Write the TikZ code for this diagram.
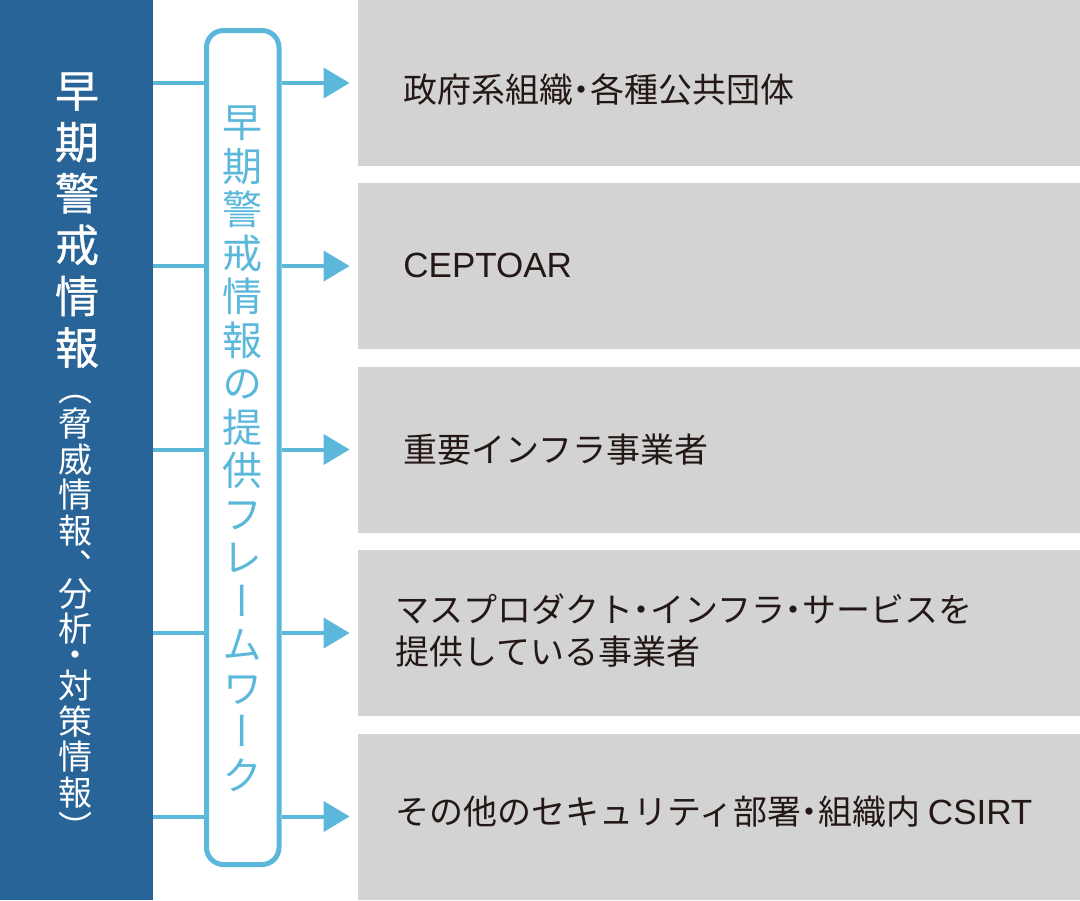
\documentclass[tikz,border=0pt]{standalone}
\usepackage{fontspec}
\setmainfont{Noto Sans CJK JP}
\newfontfamily\vjp[RawFeature=+vert]{Noto Sans CJK JP}
\newfontfamily\titlejp[FakeBold=0.8]{Noto Sans CJK JP}
\newfontfamily\lat{Liberation Sans}
\usetikzlibrary{arrows.meta}

\definecolor{srcblue}{HTML}{286497}
\definecolor{fwblue}{HTML}{5BB8DA}
\definecolor{tgtgray}{HTML}{D3D3D3}
\definecolor{ink}{HTML}{231815}

% narrow middle dot
\newcommand\midpt{\kern-.25em・\kern-.25em}

\tikzset{
  srcbox/.style={fill=srcblue, inner sep=0pt, minimum width=76.5pt, minimum height=450pt},
  fwbox/.style={draw=fwblue, line width=2.5pt, rounded corners=8.5pt, inner sep=0pt,
    minimum width=36.25pt, minimum height=417pt},
  tgtbox/.style={fill=tgtgray, inner sep=0pt, minimum width=361pt, minimum height=83pt},
  tgttext/.style={anchor=west, text=ink, inner sep=0pt, align=left,
    font=\fontsize{17}{21}\selectfont},
  vtext/.style={align=center, inner sep=0pt},
  link/.style={fwblue, line width=2pt},
  arrow/.style={link, -{Triangle[length=13pt,width=15pt]}, shorten >=4pt},
}

\begin{document}
\begin{tikzpicture}[x=0.5pt,y=-0.5pt]
\useasboundingbox (0,0) rectangle (1080,900);

% left column
\node[srcbox] (src) at (76.5,450) {};
\node[vtext, text=white, font=\titlejp\fontsize{22}{25.7}\selectfont] (srctitle) at (77,220)
  {早\\期\\警\\戒\\情\\報};
\node[vtext, text=white, font=\vjp\fontsize{17}{17.75}\selectfont] (srcnote) at (75,618)
  {（\\脅\\威\\情\\報\\、\\[-4pt]分\\析\\[-5pt]・\\[-2pt]対\\策\\情\\報\\）};

% framework
\node[fwbox] (fw) at (242.75,447.5) {};
\node[vtext, text=fwblue, font=\vjp\fontsize{20}{21.75}\selectfont] (fwtext) at (242.5,449)
  {早\\期\\警\\戒\\情\\報\\の\\提\\供\\フ\\レ\\ー\\ム\\ワ\\ー\\ク};

% recipients
\node[tgtbox] (t1) at (719,83) {};
\node[tgtbox] (t2) at (719,266) {};
\node[tgtbox] (t3) at (719,449.5) {};
\node[tgtbox] (t4) at (719,633) {};
\node[tgtbox] (t5) at (719,816.5) {};

\node[tgttext] (l1) at (403,90) {政府系組織\midpt 各種公共団体};
\node[tgttext] (l2) at (403,265) {\lat\fontsize{17.5}{21}\selectfont CEPTOAR};
\node[tgttext] (l3) at (403,450) {重要インフラ事業者};
\node[tgttext] (l4) at (395,631) {マスプロダクト\midpt インフラ\midpt サービスを\\提供している事業者};
\node[tgttext] (l5) at (395,812) {その他のセキュリティ部署\midpt 組織内 {\lat\fontsize{17.5}{21}\selectfont CSIRT}};

% connectors
\draw[link] (src.east |- t1) -- (fw.west |- t1);
\draw[link] (src.east |- t2) -- (fw.west |- t2);
\draw[link] (src.east |- t3) -- (fw.west |- t3);
\draw[link] (src.east |- t4) -- (fw.west |- t4);
\draw[link] (src.east |- t5) -- (fw.west |- t5);

\draw[arrow] (fw.east |- t1) -- (t1.west);
\draw[arrow] (fw.east |- t2) -- (t2.west);
\draw[arrow] (fw.east |- t3) -- (t3.west);
\draw[arrow] (fw.east |- t4) -- (t4.west);
\draw[arrow] (fw.east |- t5) -- (t5.west);

\end{tikzpicture}
\end{document}
